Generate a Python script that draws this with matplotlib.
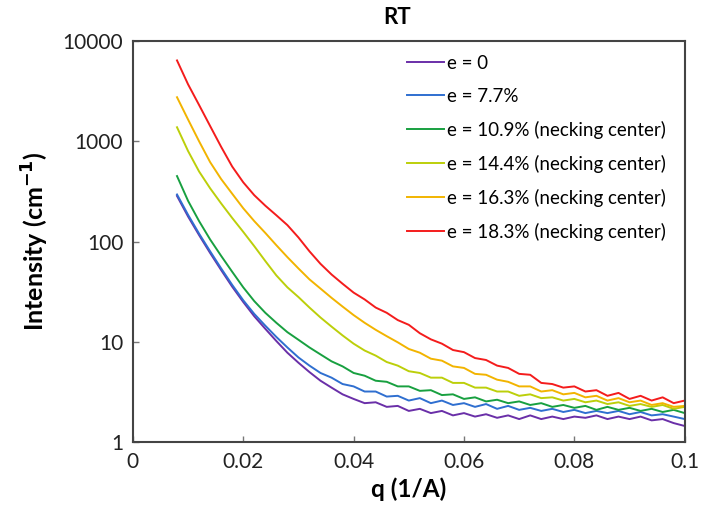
import matplotlib
matplotlib.use('Agg')
import matplotlib.pyplot as plt
from matplotlib.ticker import FixedLocator, FixedFormatter

plt.rcParams['font.family'] = ['Lato', 'DejaVu Sans']

# q values (1/A), every 0.002
q = [0.008, 0.010, 0.012, 0.014, 0.016, 0.018, 0.020, 0.022, 0.024, 0.026,
     0.028, 0.030, 0.032, 0.034, 0.036, 0.038, 0.040, 0.042, 0.044, 0.046,
     0.048, 0.050, 0.052, 0.054, 0.056, 0.058, 0.060, 0.062, 0.064, 0.066,
     0.068, 0.070, 0.072, 0.074, 0.076, 0.078, 0.080, 0.082, 0.084, 0.086,
     0.088, 0.090, 0.092, 0.094, 0.096, 0.098, 0.100]

# intensity (cm^-1) for each strain
e0 = [285, 178, 116, 77, 52, 35.5, 25, 18, 13.5, 10.2,
      7.8, 6.2, 5.0, 4.1, 3.5, 3.0, 2.7, 2.45, 2.5, 2.25,
      2.3, 2.05, 2.15, 1.95, 2.05, 1.85, 1.95, 1.8, 1.9, 1.75,
      1.85, 1.7, 1.85, 1.7, 1.8, 1.7, 1.8, 1.75, 1.85, 1.7,
      1.8, 1.7, 1.8, 1.65, 1.7, 1.55, 1.45]
e77 = [295, 185, 120, 80, 54, 37, 26, 19, 14.5, 11.2,
       8.8, 7.0, 5.8, 4.9, 4.4, 3.8, 3.6, 3.2, 3.2, 2.85,
       2.9, 2.6, 2.75, 2.45, 2.6, 2.35, 2.45, 2.25, 2.4, 2.15,
       2.3, 2.1, 2.2, 2.05, 2.15, 2.0, 2.1, 1.95, 2.05, 1.95,
       2.05, 1.9, 2.0, 1.85, 1.9, 1.8, 1.7]
e109 = [450, 255, 160, 105, 72, 50, 35, 25.5, 19.5, 15.5,
        12.5, 10.5, 8.8, 7.5, 6.4, 5.7, 4.9, 4.6, 4.1, 4.0,
        3.6, 3.6, 3.25, 3.3, 2.95, 3.0, 2.7, 2.8, 2.55, 2.65,
        2.45, 2.55, 2.35, 2.45, 2.25, 2.35, 2.2, 2.3, 2.1, 2.25,
        2.1, 2.2, 2.05, 2.15, 2.0, 2.1, 1.95]
e144 = [1380, 800, 500, 340, 240, 172, 125, 90, 64, 46,
        35, 28, 22, 17.5, 14.2, 11.6, 9.6, 8.2, 7.3, 6.3,
        5.8, 5.1, 4.9, 4.4, 4.4, 3.9, 3.9, 3.5, 3.5, 3.2,
        3.2, 2.9, 3.0, 2.75, 2.8, 2.6, 2.7, 2.5, 2.6, 2.4,
        2.5, 2.3, 2.4, 2.25, 2.35, 2.15, 2.25]
e163 = [2750, 1650, 1000, 620, 420, 300, 215, 160, 122, 92,
        70, 54, 42, 34, 27.5, 22.5, 18.5, 15.5, 13.2, 11.4,
        9.9, 8.5, 7.8, 6.8, 6.5, 5.7, 5.5, 4.8, 4.7, 4.2,
        4.0, 3.6, 3.6, 3.2, 3.3, 3.0, 3.1, 2.8, 2.9, 2.6,
        2.75, 2.5, 2.6, 2.35, 2.45, 2.25, 2.3]
e183 = [6400, 3700, 2300, 1420, 880, 560, 390, 290, 228, 183,
        146, 110, 80, 60, 47, 38, 31, 26.5, 22, 19.5,
        16.5, 14.8, 12.2, 10.6, 9.6, 8.3, 7.9, 6.9, 6.6, 5.8,
        5.5, 4.8, 4.7, 3.9, 3.8, 3.5, 3.6, 3.2, 3.3, 2.9,
        3.1, 2.7, 2.9, 2.6, 2.8, 2.45, 2.6]

series = [e0, e77, e109, e144, e163, e183]
labels = ['e = 0', 'e = 7.7%', 'e = 10.9% (necking center)',
          'e = 14.4% (necking center)', 'e = 16.3% (necking center)',
          'e = 18.3% (necking center)']
colors = ['#6a2fa8', '#2f6fd0', '#18a040', '#bccf0a', '#f2b400', '#f41c1c']

xticks = [0, 0.02, 0.04, 0.06, 0.08, 0.1]
xtick_labels = ['0', '0.02', '0.04', '0.06', '0.08', '0.1']
yticks = [1, 10, 100, 1000, 10000]
ytick_labels = ['1', '10', '100', '1000', '10000']

fig = plt.figure(figsize=(7.03, 5.19), dpi=100)
ax = fig.add_axes([0.189, 0.148, 0.785, 0.773])

for ys, lab, c in zip(series, labels, colors):
    ax.plot(q, ys, color=c, lw=1.4, label=lab)

ax.set_yscale('log')
ax.set_xlim(0, 0.1)
ax.set_ylim(1, 10000)
ax.yaxis.set_major_locator(FixedLocator(yticks))
ax.yaxis.set_major_formatter(FixedFormatter(ytick_labels))
ax.yaxis.set_minor_locator(FixedLocator([]))
ax.set_xticks(xticks)
ax.set_xticklabels(xtick_labels)

for s in ax.spines.values():
    s.set_color('#444444')
    s.set_linewidth(1.5)
ax.tick_params(direction='in', length=4, width=1, color='#777777',
               labelsize=15, labelcolor='#222222', pad=7)

ax.set_xlabel('q (1/A)', fontsize=17.5, fontweight='bold', labelpad=4)
ax.set_ylabel('Intensity (cm$^{\\mathbf{-1}}$)', fontsize=18, fontweight='bold', labelpad=8)
fig.text(397 / 703, 1 - 17 / 519, 'RT', fontsize=16, fontweight='bold',
         ha='center', va='center')

ax.legend(loc='upper left', bbox_to_anchor=(0.496, 0.966), frameon=False,
          fontsize=13.5, handlelength=2.0, handletextpad=0.15, labelspacing=0.85,
          borderaxespad=0, borderpad=0)

fig.savefig('out.png', dpi=100)
